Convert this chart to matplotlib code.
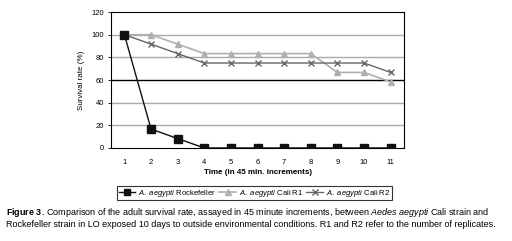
import numpy as np
import matplotlib.pyplot as plt

# --- Datos ---
time_steps = ['1', '2', '3', '4', '5', '6', '7', '8', '9', '10', '11']
rockefeller = [100, 16.7, 8.3, 0, 0, 0, 0, 0, 0, 0, 0]
cali_r1 = [100, 100, 91.7, 83.3, 83.3, 83.3, 83.3, 83.3, 66.7, 66.7, 58.3]
cali_r2 = [100, 91.7, 83.3, 75, 75, 75, 75, 75, 75, 75, 66.7]
y_ticks = [0, 20, 40, 60, 80, 100, 120]

plt.rcParams['font.family'] = ['Liberation Sans', 'DejaVu Sans']
plt.rcParams['mathtext.fontset'] = 'custom'
plt.rcParams['mathtext.rm'] = 'Liberation Sans'
plt.rcParams['mathtext.it'] = 'Liberation Sans:italic'
plt.rcParams['mathtext.bf'] = 'Liberation Sans:bold'

fig = plt.figure(figsize=(5.12, 2.41), dpi=100)
fig.patch.set_facecolor('white')
ax = fig.add_axes([0.217, 0.386, 0.572, 0.564])

x = np.arange(1, len(time_steps) + 1)

# rejillas horizontales (la de 60 sale negra en el original)
for yv in y_ticks[1:-1]:
    ax.axhline(yv, color='black' if yv == 60 else '#aaaaaa', lw=1.0, zorder=0)

ax.plot(x, rockefeller, color='#111111', lw=1.0, marker='s', ms=5.5,
        label=r'$\it{A.\ aegypti}$ Rockefeller', zorder=3)
ax.plot(x, cali_r1, color='#b0b0b0', lw=1.2, marker='^', ms=5,
        label=r'$\it{A.\ aegypti}$ Cali R1', zorder=2)
ax.plot(x, cali_r2, color='#666666', lw=1.0, marker='x', ms=5, mew=1.0,
        label=r'$\it{A.\ aegypti}$ Cali R2', zorder=2)

ax.set_xlim(0.5, len(time_steps) + 0.5)
ax.set_ylim(0, 120)
ax.set_xticks(x)
ax.set_xticklabels(time_steps)
ax.set_yticks(y_ticks)
ax.tick_params(labelsize=5.5, length=2, width=0.6, pad=3)
ax.tick_params(axis='x', length=0, pad=8)
for s in ax.spines.values():
    s.set_linewidth(0.8)

ax.set_ylabel('Survival rate (%)', fontsize=5.8, labelpad=5)
ax.set_xlabel('Time (in 45 min. increments)', fontsize=5.8, fontweight='bold', labelpad=2)

leg = ax.legend(loc='upper center', bbox_to_anchor=(0.49, -0.255), ncol=3, fontsize=5.5,
                frameon=True, fancybox=False, edgecolor='black', handlelength=2.2,
                columnspacing=0.4, handletextpad=0.4, borderpad=0.15, markerscale=0.8)
leg.get_frame().set_linewidth(0.8)

caption = (r'$\bf{Figure\ 3}$. Comparison of the adult survival rate, assayed in 45 minute increments, between '
           r'$\it{Aedes\ aegypti}$ Cali strain and' + '\n'
           'Rockefeller strain in LO exposed 10 days to outside environmental conditions. R1 and R2 refer to the number of replicates.')
fig.text(0.012, 0.05, caption, fontsize=6.5, ha='left', va='bottom', linespacing=1.2)

plt.savefig('out.png', dpi=100, facecolor='white')
